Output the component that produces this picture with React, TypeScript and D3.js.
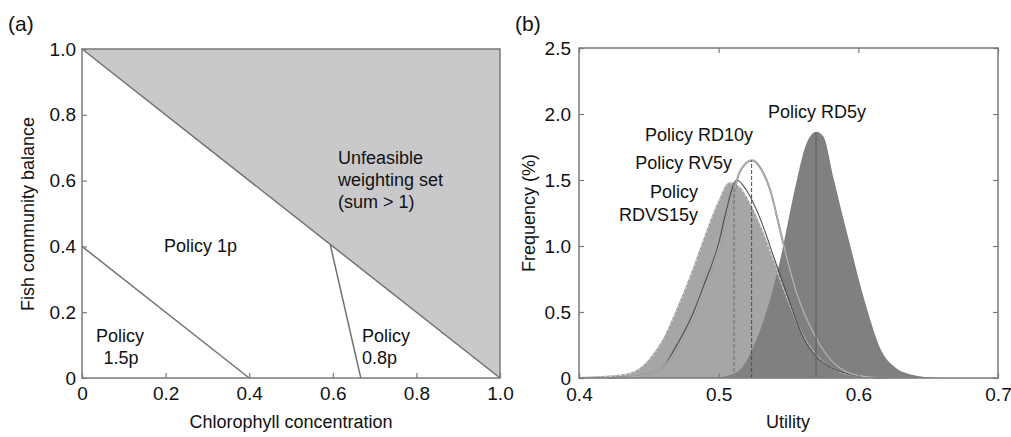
import { useEffect, useRef } from "react";
import * as d3 from "d3";

type Pt = [number, number];

// ---- panel (a): weighting space ----
const aTicks = [0, 0.2, 0.4, 0.6, 0.8, 1.0];
const unfeasibleRegion: Pt[] = [
  [0, 1],
  [1, 1],
  [1, 0],
];
const sumBoundary: Pt[] = [
  [0, 1],
  [1, 0],
];
const split15p: Pt[] = [
  [0, 0.4],
  [0.4, 0],
];
const split08p: Pt[] = [
  [0.594, 0.405],
  [0.667, 0],
];

// ---- panel (b): utility distributions ----
const bXTicks = [0.4, 0.5, 0.6, 0.7];
const bYTicks = [0, 0.5, 1.0, 1.5, 2.0, 2.5];

const rdvs15y: Pt[] = [
  [0.4, 0], [0.41, 0.005], [0.42, 0.01], [0.43, 0.02], [0.44, 0.045],
  [0.45, 0.13], [0.46, 0.28], [0.47, 0.51], [0.48, 0.77], [0.49, 1.06],
  [0.5, 1.33], [0.508, 1.477], [0.515, 1.44], [0.52, 1.36], [0.53, 1.14],
  [0.54, 0.86], [0.55, 0.58], [0.56, 0.33], [0.57, 0.17], [0.58, 0.08],
  [0.59, 0.035], [0.6, 0.015], [0.61, 0.005], [0.62, 0],
];
const rv5y: Pt[] = [
  [0.42, 0], [0.43, 0.005], [0.44, 0.01], [0.45, 0.03], [0.46, 0.08],
  [0.47, 0.25], [0.48, 0.45], [0.49, 0.72], [0.5, 1.02], [0.505, 1.25],
  [0.513, 1.5], [0.52, 1.42], [0.53, 1.2], [0.54, 0.9], [0.55, 0.6],
  [0.56, 0.32], [0.57, 0.16], [0.58, 0.08], [0.59, 0.04], [0.6, 0.015],
  [0.61, 0.005], [0.62, 0],
];
const rd10y: Pt[] = [
  [0.42, 0], [0.43, 0.005], [0.44, 0.01], [0.45, 0.03], [0.46, 0.08],
  [0.47, 0.22], [0.48, 0.42], [0.49, 0.68], [0.5, 0.98], [0.51, 1.36],
  [0.515, 1.56], [0.524, 1.65], [0.53, 1.59], [0.537, 1.42], [0.544, 1.12],
  [0.55, 0.86], [0.556, 0.64], [0.568, 0.34], [0.58, 0.14], [0.59, 0.055],
  [0.6, 0.02], [0.61, 0.005], [0.62, 0],
];
const rd5y: Pt[] = [
  [0.49, 0], [0.5, 0.005], [0.51, 0.03], [0.515, 0.06], [0.52, 0.13],
  [0.526, 0.265], [0.5367, 0.59], [0.54, 0.72], [0.546, 0.99], [0.55, 1.2],
  [0.556, 1.5], [0.563, 1.78], [0.57, 1.866], [0.575, 1.83], [0.582, 1.525],
  [0.589, 1.22], [0.595, 0.97], [0.601, 0.72], [0.608, 0.46], [0.615, 0.24],
  [0.627, 0.075], [0.64, 0.02], [0.65, 0.005], [0.66, 0],
];
// mean markers: utility and height reached
const meanUtility = [0.511, 0.5236, 0.5697];
const meanHeight = [1.47, 1.65, 1.86];

const FONT = "'Liberation Sans', Arial, Helvetica, sans-serif";
const AXIS_GREY = "#7a7a7a";

const fmt = (d: number) => (d === 0 ? "0" : d3.format(".1f")(d));

function styleAxis(g: any) {
  g.select(".domain").remove();
  g.selectAll(".tick line").attr("stroke", AXIS_GREY).attr("stroke-width", 1.2);
  g.selectAll(".tick text")
    .attr("fill", "#111")
    .style("font-family", FONT)
    .style("font-size", "19px");
}

function drawPanelA(svg: any) {
  const x = d3.scaleLinear().domain([0, 1]).range([82, 500]);
  const y = d3.scaleLinear().domain([0, 1]).range([378, 49]);
  const line = d3
    .line<Pt>()
    .x((d) => x(d[0]))
    .y((d) => y(d[1]));

  const g = svg.append("g");

  g.append("path")
    .attr("d", line(unfeasibleRegion) + "Z")
    .attr("fill", "#c9c9cb");

  [sumBoundary, split15p, split08p].forEach((seg) => {
    g.append("path")
      .attr("d", line(seg))
      .attr("fill", "none")
      .attr("stroke", "#727272")
      .attr("stroke-width", 1.5);
  });

  g.append("g")
    .attr("transform", "translate(0,378)")
    .call(d3.axisBottom(x).tickValues(aTicks).tickSize(-5).tickPadding(9).tickFormat(fmt as any))
    .call(styleAxis);
  g.append("g")
    .attr("transform", "translate(82,0)")
    .call(d3.axisLeft(y).tickValues(aTicks).tickSize(-5).tickPadding(6).tickFormat(fmt as any))
    .call(styleAxis);

  g.append("rect")
    .attr("x", 82)
    .attr("y", 49)
    .attr("width", 418)
    .attr("height", 329)
    .attr("fill", "none")
    .attr("stroke", AXIS_GREY)
    .attr("stroke-width", 1.5);

  const txt = (s: string, tx: number, ty: number, anchor = "start", size = 18) =>
    g.append("text")
      .attr("x", tx)
      .attr("y", ty)
      .attr("text-anchor", anchor)
      .style("font-family", FONT)
      .style("font-size", `${size}px`)
      .attr("fill", "#111")
      .text(s);

  txt("Unfeasible", 338, 164);
  txt("weighting set", 338, 186);
  txt("(sum > 1)", 338, 208);
  txt("Policy 1p", 164, 252);
  txt("Policy", 120, 342, "middle");
  txt("1.5p", 121, 364, "middle");
  txt("Policy", 362, 342);
  txt("0.8p", 362, 364);

  txt("Chlorophyll concentration", 291, 428, "middle");
  g.append("text")
    .attr("transform", "translate(34,214) rotate(-90)")
    .attr("text-anchor", "middle")
    .style("font-family", FONT)
    .style("font-size", "18px")
    .attr("fill", "#111")
    .text("Fish community balance");
  txt("(a)", 8, 31, "start", 21);
}

function drawPanelB(svg: any) {
  const x = d3.scaleLinear().domain([0.4, 0.7]).range([579, 998]);
  const y = d3.scaleLinear().domain([0, 2.5]).range([378, 48]);
  const area = d3
    .area<Pt>()
    .x((d) => x(d[0]))
    .y0(y(0))
    .y1((d) => y(d[1]))
    .curve(d3.curveMonotoneX);
  const line = d3
    .line<Pt>()
    .x((d) => x(d[0]))
    .y((d) => y(d[1]))
    .curve(d3.curveMonotoneX);

  const g = svg.append("g");

  // filled distributions
  g.append("path").attr("d", area(rdvs15y)).attr("fill", "#a6a6a6");
  g.append("path").attr("d", area(rd5y)).attr("fill", "#808080");

  // outline of the light distribution
  g.append("path")
    .attr("d", line(rdvs15y))
    .attr("fill", "none")
    .attr("stroke", "#9a9a9a")
    .attr("stroke-width", 1.8);
  g.append("path")
    .attr("d", line(rdvs15y))
    .attr("fill", "none")
    .attr("stroke", "#e6e6e6")
    .attr("stroke-width", 0.8)
    .attr("stroke-dasharray", "3,2");

  // RV5y outline
  g.append("path")
    .attr("d", line(rv5y))
    .attr("fill", "none")
    .attr("stroke", "#4e4e4e")
    .attr("stroke-width", 1.1);

  // RD10y outline (double grey line)
  g.append("path")
    .attr("d", line(rd10y))
    .attr("fill", "none")
    .attr("stroke", "#8a8a8a")
    .attr("stroke-width", 2);
  g.append("path")
    .attr("d", line(rd10y))
    .attr("fill", "none")
    .attr("stroke", "#dcdcdc")
    .attr("stroke-width", 0.6);

  // mean markers
  const meanStyles = [
    { stroke: "#8a8a8a", width: 2.2, dash: "4,2" },
    { stroke: "#4a4a4a", width: 1, dash: "4,2" },
    { stroke: "#666666", width: 1.5, dash: null },
  ];
  meanUtility.forEach((u, i) => {
    const s = meanStyles[i];
    g.append("line")
      .attr("x1", x(u))
      .attr("x2", x(u))
      .attr("y1", y(0))
      .attr("y2", y(meanHeight[i]))
      .attr("stroke", s.stroke)
      .attr("stroke-width", s.width)
      .attr("stroke-dasharray", s.dash);
  });

  // axes with inward ticks on all sides
  g.append("g")
    .attr("transform", "translate(0,378)")
    .call(d3.axisBottom(x).tickValues(bXTicks).tickSize(-5).tickPadding(10).tickFormat(d3.format(".1f") as any))
    .call(styleAxis);
  g.append("g")
    .attr("transform", "translate(0,48)")
    .call(d3.axisTop(x).tickValues(bXTicks).tickSize(-5).tickFormat(() => ""))
    .call(styleAxis);
  g.append("g")
    .attr("transform", "translate(579,0)")
    .call(d3.axisLeft(y).tickValues(bYTicks).tickSize(-5).tickPadding(8).tickFormat(fmt as any))
    .call(styleAxis);
  g.append("g")
    .attr("transform", "translate(998,0)")
    .call(d3.axisRight(y).tickValues(bYTicks).tickSize(-5).tickFormat(() => ""))
    .call(styleAxis);

  g.append("rect")
    .attr("x", 579)
    .attr("y", 48)
    .attr("width", 419)
    .attr("height", 330)
    .attr("fill", "none")
    .attr("stroke", AXIS_GREY)
    .attr("stroke-width", 1.5);

  const txt = (s: string, tx: number, ty: number, anchor = "start", size = 18) =>
    g.append("text")
      .attr("x", tx)
      .attr("y", ty)
      .attr("text-anchor", anchor)
      .style("font-family", FONT)
      .style("font-size", `${size}px`)
      .attr("fill", "#111")
      .text(s);

  txt("Policy RD5y", 768, 118);
  txt("Policy RD10y", 753, 141, "end");
  txt("Policy RV5y", 732, 169, "end");
  txt("Policy", 698, 198, "end");
  txt("RDVS15y", 698, 221, "end");

  txt("Utility", 788, 428, "middle");
  g.append("text")
    .attr("transform", "translate(535,213) rotate(-90)")
    .attr("text-anchor", "middle")
    .style("font-family", FONT)
    .style("font-size", "18px")
    .attr("fill", "#111")
    .text("Frequency (%)");
  txt("(b)", 515, 31, "start", 21);
}

export default function App() {
  const ref = useRef<SVGSVGElement | null>(null);
  useEffect(() => {
    if (!ref.current) return;
    const svg = d3.select(ref.current);
    svg.selectAll("*").remove();
    svg.append("rect").attr("width", 1011).attr("height", 437).attr("fill", "#fff");
    drawPanelA(svg);
    drawPanelB(svg);
  }, []);
  return (
    <svg
      ref={ref}
      width={1011}
      height={437}
      style={{ position: "absolute", left: 0, top: 0, display: "block" }}
    />
  );
}
